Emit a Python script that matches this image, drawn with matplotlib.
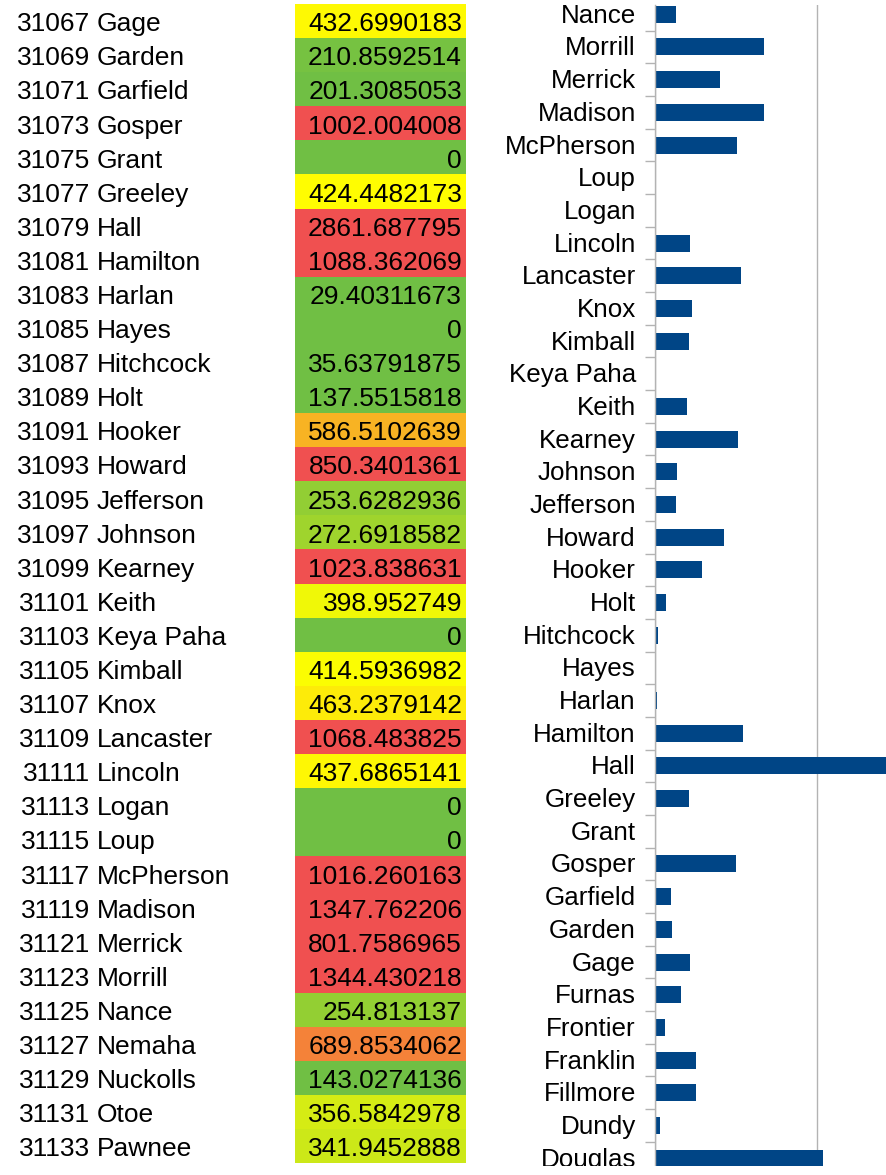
import matplotlib
matplotlib.use("Agg")
import matplotlib.pyplot as plt
import matplotlib.transforms as mtransforms
from matplotlib.colors import LinearSegmentedColormap, Normalize
from matplotlib.patches import Rectangle

plt.rcParams['font.family'] = ['Liberation Sans', 'DejaVu Sans']

# county table: FIPS code, name, rate
codes = [31067, 31069, 31071, 31073, 31075, 31077, 31079, 31081, 31083, 31085,
         31087, 31089, 31091, 31093, 31095, 31097, 31099, 31101, 31103, 31105,
         31107, 31109, 31111, 31113, 31115, 31117, 31119, 31121, 31123, 31125,
         31127, 31129, 31131, 31133]
names = ["Gage", "Garden", "Garfield", "Gosper", "Grant", "Greeley", "Hall",
         "Hamilton", "Harlan", "Hayes", "Hitchcock", "Holt", "Hooker", "Howard",
         "Jefferson", "Johnson", "Kearney", "Keith", "Keya Paha", "Kimball",
         "Knox", "Lancaster", "Lincoln", "Logan", "Loup", "McPherson", "Madison",
         "Merrick", "Morrill", "Nance", "Nemaha", "Nuckolls", "Otoe", "Pawnee"]
rates = [432.6990183, 210.8592514, 201.3085053, 1002.004008, 0, 424.4482173,
         2861.687795, 1088.362069, 29.40311673, 0, 35.63791875, 137.5515818,
         586.5102639, 850.3401361, 253.6282936, 272.6918582, 1023.838631,
         398.952749, 0, 414.5936982, 463.2379142, 1068.483825, 437.6865141,
         0, 0, 1016.260163, 1347.762206, 801.7586965, 1344.430218, 254.813137,
         689.8534062, 143.0274136, 356.5842978, 341.9452888]

# chart categories, top to bottom
chart_names = ["Nance", "Morrill", "Merrick", "Madison", "McPherson", "Loup",
               "Logan", "Lincoln", "Lancaster", "Knox", "Kimball", "Keya Paha",
               "Keith", "Kearney", "Johnson", "Jefferson", "Howard", "Hooker",
               "Holt", "Hitchcock", "Hayes", "Harlan", "Hamilton", "Hall",
               "Greeley", "Grant", "Gosper", "Garfield", "Garden", "Gage",
               "Furnas", "Frontier", "Franklin", "Fillmore", "Dundy", "Douglas"]
# counties above the table's first row
other_rates = {"Furnas": 320, "Frontier": 123, "Franklin": 505,
               "Fillmore": 505, "Dundy": 62, "Douglas": 2084}

lookup = dict(zip(names, rates))
lookup.update(other_rates)
chart_rates = [lookup[n] for n in chart_names]

fig = plt.figure(figsize=(8.87, 11.75), dpi=100)

# three colour scale: green -> yellow -> red
scale = LinearSegmentedColormap.from_list(
    "gyr", [(0.0, "#70bf44"), (220 / 600, "#ffff00"), (1.0, "#f05050")])
norm = Normalize(vmin=200, vmax=800, clip=True)
cell_colors = [scale(norm(v)) for v in rates]

tab = fig.add_axes([0, 0, 1, 1])
tab.set_xlim(0, 887)
tab.set_ylim(33.85, -0.6175)
tab.axis("off")
rows = list(range(len(codes)))
tab.barh(rows, 171, left=295, height=1.0, color=cell_colors)
for i in rows:
    tab.text(90, i + 0.30, str(codes[i]), ha="right", va="baseline", fontsize=19)
    tab.text(97, i + 0.30, names[i], ha="left", va="baseline", fontsize=19)
    tab.text(462, i + 0.30, f"{rates[i]:.10g}", ha="right", va="baseline",
             fontsize=19)

# bar chart on the right
ax = fig.add_axes([655 / 887, -5 / 1175, 242.5 / 887, 1.0])
pos = list(range(len(chart_names)))
ax.barh(pos, chart_rates, height=0.52, color="#004586")
ax.set_xlim(0, 3000)
ax.set_ylim(35.67, -0.2846)
ax.set_xticks([0, 2000])
ax.set_xticklabels([])
ax.tick_params(axis="x", length=0)
ax.grid(axis="x", color="#b3b3b3", linewidth=1)
ax.set_axisbelow(True)
ax.set_yticks(pos)
ax.set_yticklabels(chart_names, fontsize=18.7)
ax.set_yticks([p + 0.5 for p in pos], minor=True)
ax.tick_params(axis="y", which="major", length=0, pad=13.7)
ax.tick_params(axis="y", which="minor", length=7.2, width=1, color="#b3b3b3")
nudge = mtransforms.ScaledTranslation(0, 1 / 100, fig.dpi_scale_trans)
for lab in ax.get_yticklabels():
    lab.set_transform(lab.get_transform() + nudge)
for s in ["top", "right", "bottom"]:
    ax.spines[s].set_visible(False)
ax.spines["left"].set_color("#b3b3b3")
ax.spines["left"].set_linewidth(1)

# chart object is cut off a little above the bottom edge
fig.patches.append(Rectangle((480 / 887, 0), 407 / 887, 9 / 1175,
                             transform=fig.transFigure, facecolor="white",
                             edgecolor="none", zorder=10))

fig.savefig("out.png", dpi=100)
